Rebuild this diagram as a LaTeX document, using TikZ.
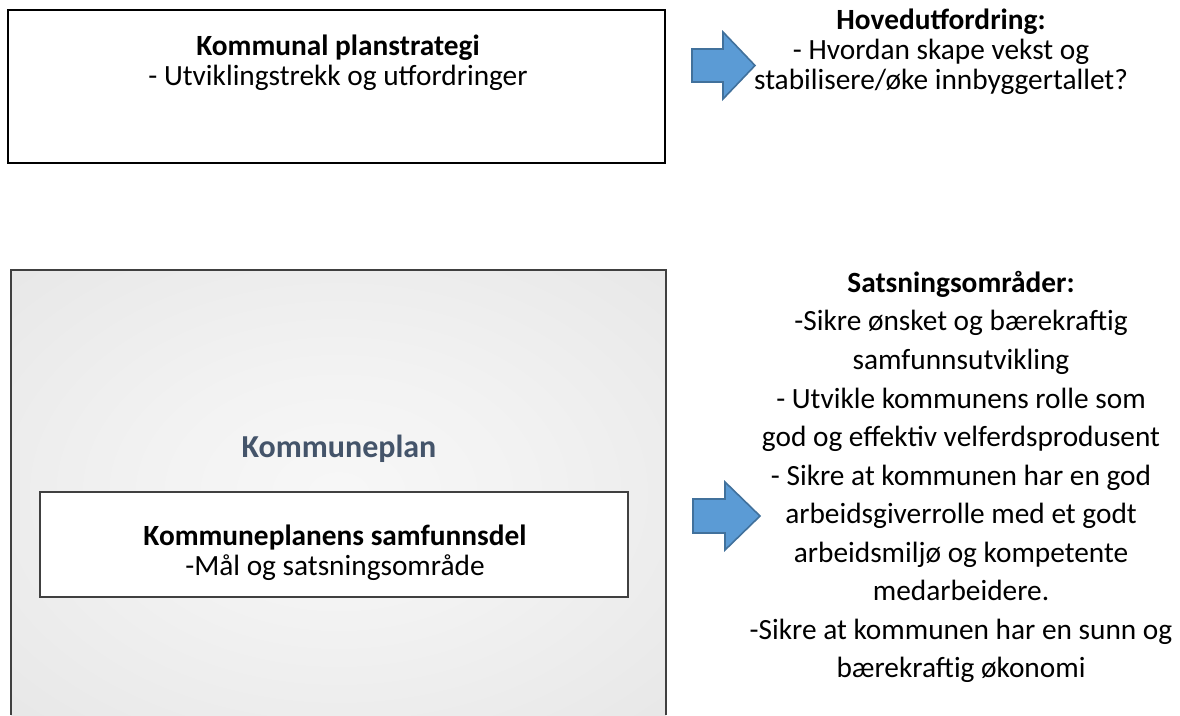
\documentclass[tikz,border=0pt]{standalone}
\usepackage{fontspec}
\setmainfont{Carlito}
\usetikzlibrary{positioning}
\definecolor{arrowfill}{RGB}{91,155,213}
\definecolor{arrowline}{RGB}{65,113,156}
\definecolor{plantitle}{RGB}{68,84,106}
\definecolor{frameline}{RGB}{64,64,64}
\pgfdeclareradialshading{planglow}{\pgfpoint{0bp}{0bp}}{color(0bp)=(white!97!black); color(14bp)=(white!95!black); color(50bp)=(white!88!black); color(75bp)=(white!85!black)}
\tikzset{
	boxtext/.style={align=center, font=\fontsize{22}{22.5}\selectfont, inner sep=0pt},
	sidetext/.style={align=center, font=\fontsize{22}{22.5}\selectfont, inner sep=0pt},
	listtext/.style={align=center, font=\fontsize{22}{28.9}\selectfont, inner sep=0pt},
	titletext/.style={font=\fontsize{24}{24}\selectfont\bfseries, text=plantitle, inner sep=0pt},
	bluearrow/.style={fill=arrowfill, draw=arrowline, line width=1.2pt, line join=miter},
}
\begin{document}
\begin{tikzpicture}[x=0.75pt,y=0.75pt,yscale=-1,xscale=1]
	\useasboundingbox (0,0) rectangle (1180,715);

	%Kommunal planstrategi
	\draw [black, line width=1.2pt] (8,10) rectangle (665,163);
	\node [boxtext] (strategi) at (338,63) {\textbf{Kommunal planstrategi}\\- Utviklingstrekk og utfordringer};

	%Kommuneplan (open at the bottom)
	\fill [shading=planglow] (11,270) rectangle (666,715);
	\draw [frameline, line width=1.5pt] (11,715) -- (11,270) -- (666,270) -- (666,715);
	\node [titletext] (kommuneplan) at (339,449) {Kommuneplan};

	%Samfunnsdel
	\draw [frameline, fill=white, line width=0.8pt] (40,492) rectangle (628,597);
	\node [boxtext] (samfunnsdel) at (335,553) {\textbf{Kommuneplanens samfunnsdel}\\-Mål og satsningsområde};

	%Block arrows
	\coordinate (pil1) at (692,49);
	\draw [bluearrow] (pil1) -- ++(31,0) -- ++(0,-17) -- ++(32,33.5) -- ++(-32,33.5) -- ++(0,-17) -- ++(-31,0) -- cycle;
	\coordinate (pil2) at (693,499);
	\draw [bluearrow] (pil2) -- ++(32,0) -- ++(0,-17) -- ++(35,34) -- ++(-35,34) -- ++(0,-17) -- ++(-32,0) -- cycle;

	%Right hand texts
	\node [sidetext] (utfordring) at (941,52) {\textbf{Hovedutfordring:}\\- Hvordan skape vekst og\\stabilisere/øke innbyggertallet?};
	\node [listtext] (satsning) at (961,477) {\textbf{Satsningsområder:}\\-Sikre ønsket og bærekraftig\\samfunnsutvikling\\- Utvikle kommunens rolle som\\god og effektiv velferdsprodusent\\- Sikre at kommunen har en god\\arbeidsgiverrolle med et godt\\arbeidsmiljø og kompetente\\medarbeidere.\\-Sikre at kommunen har en sunn og\\bærekraftig økonomi};
\end{tikzpicture}
\end{document}
